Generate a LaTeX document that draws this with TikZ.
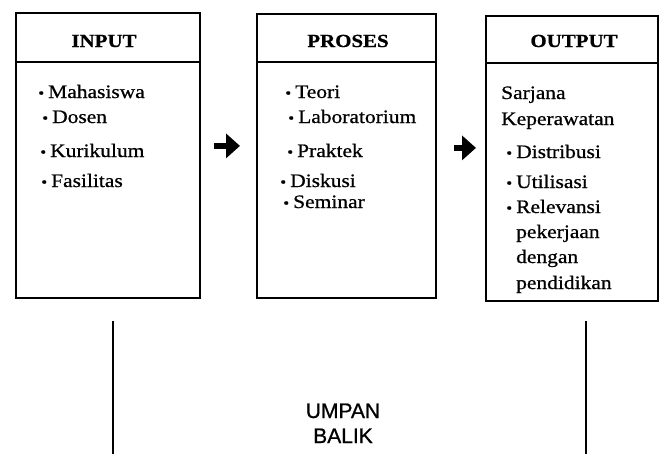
\documentclass[tikz,border=0pt]{standalone}
\usepackage{fontspec}
\setmainfont{Liberation Serif}[FakeStretch=1.13,FakeBold=0.8]
\newfontfamily\umpanfont{Liberation Sans}[FakeBold=0.8]
\usetikzlibrary{arrows.meta,calc}
\newcommand{\bul}{\llap{{\fontsize{15}{15}\selectfont •}\hspace{4pt}}}
\begin{document}
\begin{tikzpicture}[x=1pt,y=-1pt,
  box/.style={draw,line width=1.8pt,rectangle,inner sep=0pt,anchor=north west},
  head/.style={font=\fontsize{18.5}{18.5}\selectfont\bfseries,anchor=base,inner sep=0pt},
  item/.style={font=\fontsize{19}{19}\selectfont,anchor=base west,inner sep=0pt},
  divider/.style={line width=1.8pt},
  flow/.style={line width=6.5pt,-{Triangle[length=14pt,width=24pt]}},
  fb/.style={line width=1.6pt},
  fbtext/.style={font=\umpanfont\fontsize{21}{21}\selectfont,anchor=base,inner sep=0pt}
]
\useasboundingbox (0,0) rectangle (661,453);

% boxes
\node[box,minimum width=184pt,minimum height=285pt] (input) at (15,12) {};
\node[box,minimum width=179pt,minimum height=284pt] (proses) at (256,13) {};
\node[box,minimum width=172pt,minimum height=285pt] (output) at (485,15) {};

% header dividers
\coordinate (hy) at (0,62);
\coordinate (hy2) at (0,63);
\draw[divider] (input.west |- hy) -- (input.east |- hy);
\draw[divider] (proses.west |- hy) -- (proses.east |- hy);
\draw[divider] (output.west |- hy2) -- (output.east |- hy2);

% headers
\node[head] (hin) at (104,47) {INPUT};
\node[head] (hpr) at (348,47) {PROSES};
\node[head] (hout) at (574,47) {OUTPUT};

% input items
\node[item] (i1) at (48,98) {\bul Mahasiswa};
\node[item] (i2) at (52,123) {\bul Dosen};
\node[item] (i3) at (50,157) {\bul Kurikulum};
\node[item] (i4) at (51,187) {\bul Fasilitas};

% proses items
\node[item] (p1) at (295,98) {\bul Teori};
\node[item] (p2) at (298,123) {\bul Laboratorium};
\node[item] (p3) at (297,157) {\bul Praktek};
\node[item] (p4) at (290,187) {\bul Diskusi};
\node[item] (p5) at (293,208) {\bul Seminar};

% output items
\node[item] (o1) at (501,99) {Sarjana};
\node[item] (o2) at (501,125) {Keperawatan};
\node[item] (o3) at (516,158) {\bul Distribusi};
\node[item] (o4) at (516,188) {\bul Utilisasi};
\node[item] (o5) at (516,213) {\bul Relevansi};
\node[item] (o6) at (516,238) {pekerjaan};
\node[item] (o7) at (516,263) {dengan};
\node[item] (o8) at (516,289) {pendidikan};

% flow arrows
\draw[flow,shorten <=13pt,shorten >=16pt] ([yshift=9.5pt]input.east) -- ([yshift=10pt]proses.west);
\draw[flow,shorten <=17pt,shorten >=9pt] ([yshift=8pt]proses.east) -- ([yshift=10.5pt]output.west);

% feedback
\coordinate (fbLt) at (113,321);
\coordinate (fbLb) at (113,455);
\coordinate (fbRt) at (586,321);
\coordinate (fbRb) at (586,455);
\draw[fb] (fbLt) -- (fbLb);
\draw[fb] (fbRt) -- (fbRb);
\node[fbtext] (u1) at (343,418) {UMPAN};
\node[fbtext] (u2) at (343,443) {BALIK};
\end{tikzpicture}
\end{document}
